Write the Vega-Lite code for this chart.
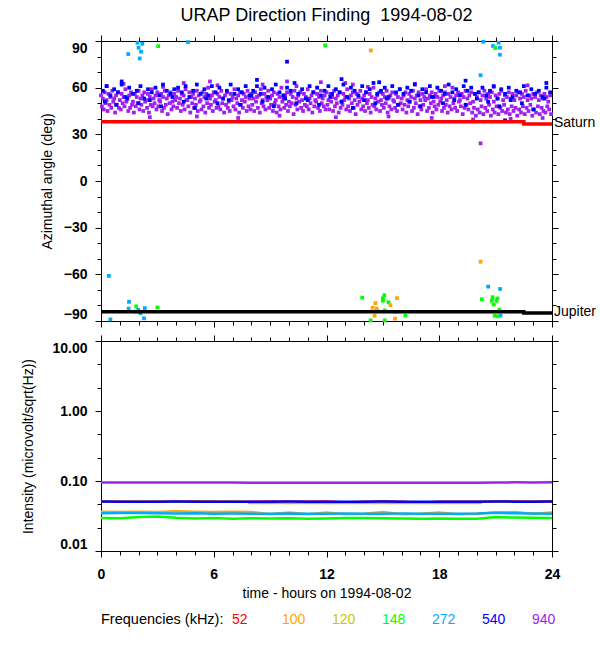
{
  "$schema": "https://vega.github.io/schema/vega-lite/v6.json",
  "description": "URAP direction finding for 1994-08-02: azimuthal angle and intensity by frequency.",
  "padding": {"left": 21, "top": 6, "right": 4, "bottom": 4},
  "background": "white",
  "config": {
    "view": {"stroke": "black", "strokeWidth": 1},
    "font": "Liberation Sans",
    "axis": {
      "domain": false,
      "grid": false,
      "tickColor": "black",
      "tickWidth": 1,
      "labelColor": "black",
      "labelFont": "Liberation Sans",
      "labelFontSize": 14,
      "labelFontWeight": "bold",
      "titleFont": "Liberation Sans",
      "titleFontSize": 14,
      "titleFontWeight": "normal",
      "titleColor": "black"
    },
    "legend": {
      "orient": "bottom",
      "direction": "horizontal",
      "titleOrient": "left",
      "titleFont": "Liberation Sans",
      "titleFontSize": 14.5,
      "titleFontWeight": "normal",
      "titleColor": "black",
      "titlePadding": 0,
      "labelFont": "Liberation Sans",
      "labelFontSize": 14,
      "symbolSize": 0,
      "symbolOpacity": 0,
      "symbolStrokeWidth": 0,
      "labelOffset": -6,
      "columnPadding": 18,
      "gridAlign": "all",
      "offset": 12
    },
    "title": {
      "font": "Liberation Sans",
      "fontSize": 18,
      "fontWeight": "normal",
      "color": "black",
      "anchor": "middle",
      "frame": "group",
      "offset": 10
    }
  },
  "datasets": {
    "bodies": [
      {"t": 0, "a": 38.1, "body": "Saturn"},
      {"t": 22.5, "a": 36.7, "body": "Saturn"},
      {"t": 24, "a": 36.7, "body": "Saturn"},
      {"t": 0, "a": -84, "body": "Jupiter"},
      {"t": 22.5, "a": -84.8, "body": "Jupiter"},
      {"t": 24, "a": -84.8, "body": "Jupiter"}
    ],
    "ints": [
      {"t":0,"v":0.0505,"f":52},{"t":1,"v":0.051,"f":52},{"t":2,"v":0.0505,"f":52},{"t":3,"v":0.051,"f":52},{"t":4,"v":0.0505,"f":52},{"t":5,"v":0.0515,"f":52},{"t":6,"v":0.051,"f":52},{"t":7,"v":0.0505,"f":52},{"t":8,"v":0.0505,"f":52},{"t":9,"v":0.051,"f":52},{"t":10,"v":0.0505,"f":52},{"t":11,"v":0.0505,"f":52},{"t":12,"v":0.051,"f":52},{"t":13,"v":0.0495,"f":52},{"t":14,"v":0.0505,"f":52},{"t":15,"v":0.051,"f":52},{"t":16,"v":0.0505,"f":52},{"t":17,"v":0.049,"f":52},{"t":18,"v":0.0505,"f":52},{"t":19,"v":0.0505,"f":52},{"t":20,"v":0.0505,"f":52},{"t":21,"v":0.051,"f":52},{"t":22,"v":0.0515,"f":52},{"t":23,"v":0.051,"f":52},{"t":24,"v":0.0515,"f":52},
      {"t":0,"v":0.0365,"f":100},{"t":1,"v":0.036,"f":100},{"t":2,"v":0.0365,"f":100},{"t":3,"v":0.036,"f":100},{"t":4,"v":0.037,"f":100},{"t":5,"v":0.0365,"f":100},{"t":6,"v":0.036,"f":100},{"t":7,"v":0.0365,"f":100},{"t":8,"v":0.036,"f":100},{"t":9,"v":0.0335,"f":100},{"t":10,"v":0.0355,"f":100},{"t":11,"v":0.0335,"f":100},{"t":12,"v":0.0355,"f":100},{"t":13,"v":0.0335,"f":100},{"t":14,"v":0.034,"f":100},{"t":15,"v":0.036,"f":100},{"t":16,"v":0.0335,"f":100},{"t":17,"v":0.034,"f":100},{"t":18,"v":0.0355,"f":100},{"t":19,"v":0.0335,"f":100},{"t":20,"v":0.034,"f":100},{"t":21,"v":0.0355,"f":100},{"t":22,"v":0.036,"f":100},{"t":23,"v":0.034,"f":100},{"t":24,"v":0.0355,"f":100},
      {"t":0,"v":0.0505,"f":120},{"t":7.8,"v":0.0505,"f":120},{"t":7.9,"v":0.0485,"f":120},{"t":20.2,"v":0.0485,"f":120},{"t":20.3,"v":0.0505,"f":120},{"t":24,"v":0.0505,"f":120},
      {"t":0,"v":0.0295,"f":148},{"t":1,"v":0.0293,"f":148},{"t":2,"v":0.0305,"f":148},{"t":3,"v":0.031,"f":148},{"t":4,"v":0.0298,"f":148},{"t":5,"v":0.0292,"f":148},{"t":6,"v":0.0295,"f":148},{"t":7,"v":0.029,"f":148},{"t":8,"v":0.0293,"f":148},{"t":9,"v":0.0291,"f":148},{"t":10,"v":0.0294,"f":148},{"t":11,"v":0.0289,"f":148},{"t":12,"v":0.0292,"f":148},{"t":13,"v":0.0295,"f":148},{"t":14,"v":0.0297,"f":148},{"t":15,"v":0.0293,"f":148},{"t":16,"v":0.0291,"f":148},{"t":17,"v":0.029,"f":148},{"t":18,"v":0.0292,"f":148},{"t":19,"v":0.0288,"f":148},{"t":20,"v":0.0289,"f":148},{"t":21,"v":0.0305,"f":148},{"t":22,"v":0.03,"f":148},{"t":23,"v":0.0298,"f":148},{"t":24,"v":0.0297,"f":148},
      {"t":0,"v":0.0345,"f":272},{"t":1,"v":0.035,"f":272},{"t":2,"v":0.0348,"f":272},{"t":3,"v":0.0345,"f":272},{"t":4,"v":0.0342,"f":272},{"t":5,"v":0.0345,"f":272},{"t":6,"v":0.034,"f":272},{"t":7,"v":0.0342,"f":272},{"t":8,"v":0.034,"f":272},{"t":9,"v":0.0341,"f":272},{"t":10,"v":0.0343,"f":272},{"t":11,"v":0.034,"f":272},{"t":12,"v":0.0341,"f":272},{"t":13,"v":0.0342,"f":272},{"t":14,"v":0.034,"f":272},{"t":15,"v":0.0341,"f":272},{"t":16,"v":0.0342,"f":272},{"t":17,"v":0.034,"f":272},{"t":18,"v":0.0341,"f":272},{"t":19,"v":0.034,"f":272},{"t":20,"v":0.0342,"f":272},{"t":21,"v":0.0352,"f":272},{"t":22,"v":0.0345,"f":272},{"t":23,"v":0.0342,"f":272},{"t":24,"v":0.034,"f":272},
      {"t":0,"v":0.0508,"f":540},{"t":1,"v":0.0506,"f":540},{"t":2,"v":0.0507,"f":540},{"t":3,"v":0.0506,"f":540},{"t":4,"v":0.0508,"f":540},{"t":5,"v":0.0506,"f":540},{"t":6,"v":0.0507,"f":540},{"t":7,"v":0.0506,"f":540},{"t":8,"v":0.0505,"f":540},{"t":9,"v":0.0506,"f":540},{"t":10,"v":0.0508,"f":540},{"t":11,"v":0.0506,"f":540},{"t":12,"v":0.0505,"f":540},{"t":13,"v":0.0506,"f":540},{"t":14,"v":0.0507,"f":540},{"t":15,"v":0.0508,"f":540},{"t":16,"v":0.0506,"f":540},{"t":17,"v":0.0505,"f":540},{"t":18,"v":0.0506,"f":540},{"t":19,"v":0.0505,"f":540},{"t":20,"v":0.0506,"f":540},{"t":21,"v":0.051,"f":540},{"t":22,"v":0.0507,"f":540},{"t":23,"v":0.0506,"f":540},{"t":24,"v":0.0508,"f":540},
      {"t":0,"v":0.0955,"f":940},{"t":1,"v":0.095,"f":940},{"t":2,"v":0.0955,"f":940},{"t":3,"v":0.095,"f":940},{"t":4,"v":0.0955,"f":940},{"t":5,"v":0.0952,"f":940},{"t":6,"v":0.095,"f":940},{"t":7,"v":0.0948,"f":940},{"t":8,"v":0.0946,"f":940},{"t":9,"v":0.0946,"f":940},{"t":10,"v":0.0945,"f":940},{"t":11,"v":0.0946,"f":940},{"t":12,"v":0.0946,"f":940},{"t":13,"v":0.0945,"f":940},{"t":14,"v":0.0946,"f":940},{"t":15,"v":0.0946,"f":940},{"t":16,"v":0.0945,"f":940},{"t":17,"v":0.0946,"f":940},{"t":18,"v":0.0946,"f":940},{"t":19,"v":0.0945,"f":940},{"t":20,"v":0.0946,"f":940},{"t":21,"v":0.0955,"f":940},{"t":22,"v":0.0956,"f":940},{"t":23,"v":0.0955,"f":940},{"t":24,"v":0.0956,"f":940}
    ],
    "pts": [
      {"t":0.0,"a":55,"f":940},{"t":0.05,"a":48,"f":940},{"t":0.1,"a":53,"f":940},{"t":0.15,"a":46,"f":940},{"t":0.2,"a":57,"f":940},{"t":0.25,"a":50,"f":940},{"t":0.3,"a":52,"f":940},{"t":0.35,"a":45,"f":940},{"t":0.4,"a":56,"f":940},{"t":0.45,"a":49,"f":940},
      {"t":0.5,"a":54,"f":940},{"t":0.55,"a":47,"f":940},{"t":0.6,"a":58,"f":940},{"t":0.65,"a":51,"f":940},{"t":0.7,"a":53,"f":940},{"t":0.75,"a":44,"f":940},{"t":0.8,"a":55,"f":940},{"t":0.85,"a":49,"f":940},{"t":0.9,"a":57,"f":940},{"t":0.95,"a":47,"f":940},
      {"t":1.0,"a":52,"f":940},{"t":1.05,"a":46,"f":940},{"t":1.1,"a":56,"f":940},{"t":1.15,"a":50,"f":940},{"t":1.2,"a":54,"f":940},{"t":1.25,"a":48,"f":940},{"t":1.3,"a":59,"f":940},{"t":1.35,"a":51,"f":940},{"t":1.4,"a":53,"f":940},{"t":1.45,"a":45,"f":940},
      {"t":1.5,"a":55,"f":940},{"t":1.55,"a":47,"f":940},{"t":1.6,"a":57,"f":940},{"t":1.65,"a":49,"f":940},{"t":1.7,"a":51,"f":940},{"t":1.75,"a":44,"f":940},{"t":1.8,"a":56,"f":940},{"t":1.85,"a":48,"f":940},{"t":1.9,"a":54,"f":940},{"t":1.95,"a":50,"f":940},
      {"t":2.0,"a":58,"f":940},{"t":2.05,"a":46,"f":940},{"t":2.1,"a":53,"f":940},{"t":2.15,"a":49,"f":940},{"t":2.2,"a":55,"f":940},{"t":2.25,"a":45,"f":940},{"t":2.3,"a":57,"f":940},{"t":2.35,"a":51,"f":940},{"t":2.4,"a":52,"f":940},{"t":2.45,"a":47,"f":940},
      {"t":2.5,"a":56,"f":940},{"t":2.55,"a":44,"f":940},{"t":2.6,"a":54,"f":940},{"t":2.65,"a":49,"f":940},{"t":2.7,"a":59,"f":940},{"t":2.75,"a":48,"f":940},{"t":2.8,"a":53,"f":940},{"t":2.85,"a":50,"f":940},{"t":2.9,"a":55,"f":940},{"t":2.95,"a":46,"f":940},
      {"t":3.0,"a":57,"f":940},{"t":3.05,"a":48,"f":940},{"t":3.1,"a":52,"f":940},{"t":3.15,"a":51,"f":940},{"t":3.2,"a":56,"f":940},{"t":3.25,"a":45,"f":940},{"t":3.3,"a":54,"f":940},{"t":3.35,"a":47,"f":940},{"t":3.4,"a":58,"f":940},{"t":3.45,"a":49,"f":940},
      {"t":3.5,"a":53,"f":940},{"t":3.55,"a":43,"f":940},{"t":3.6,"a":55,"f":940},{"t":3.65,"a":50,"f":940},{"t":3.7,"a":57,"f":940},{"t":3.75,"a":46,"f":940},{"t":3.8,"a":51,"f":940},{"t":3.85,"a":48,"f":940},{"t":3.9,"a":56,"f":940},{"t":3.95,"a":52,"f":940},
      {"t":4.0,"a":54,"f":940},{"t":4.05,"a":47,"f":940},{"t":4.1,"a":58,"f":940},{"t":4.15,"a":50,"f":940},{"t":4.2,"a":53,"f":940},{"t":4.25,"a":45,"f":940},{"t":4.3,"a":56,"f":940},{"t":4.35,"a":49,"f":940},{"t":4.4,"a":55,"f":940},{"t":4.45,"a":46,"f":940},
      {"t":4.5,"a":59,"f":940},{"t":4.55,"a":52,"f":940},{"t":4.6,"a":52,"f":940},{"t":4.65,"a":48,"f":940},{"t":4.7,"a":57,"f":940},{"t":4.75,"a":44,"f":940},{"t":4.8,"a":54,"f":940},{"t":4.85,"a":50,"f":940},{"t":4.9,"a":56,"f":940},{"t":4.95,"a":47,"f":940},
      {"t":5.0,"a":53,"f":940},{"t":5.05,"a":49,"f":940},{"t":5.1,"a":58,"f":940},{"t":5.15,"a":45,"f":940},{"t":5.2,"a":55,"f":940},{"t":5.25,"a":51,"f":940},{"t":5.3,"a":52,"f":940},{"t":5.35,"a":46,"f":940},{"t":5.4,"a":57,"f":940},{"t":5.45,"a":48,"f":940},
      {"t":5.5,"a":54,"f":940},{"t":5.55,"a":44,"f":940},{"t":5.6,"a":56,"f":940},{"t":5.65,"a":50,"f":940},{"t":5.7,"a":60,"f":940},{"t":5.75,"a":47,"f":940},{"t":5.8,"a":53,"f":940},{"t":5.85,"a":49,"f":940},{"t":5.9,"a":55,"f":940},{"t":5.95,"a":45,"f":940},
      {"t":6.0,"a":57,"f":940},{"t":6.05,"a":51,"f":940},{"t":6.1,"a":52,"f":940},{"t":6.15,"a":47,"f":940},{"t":6.2,"a":56,"f":940},{"t":6.25,"a":48,"f":940},{"t":6.3,"a":54,"f":940},{"t":6.35,"a":46,"f":940},{"t":6.4,"a":58,"f":940},{"t":6.45,"a":50,"f":940},
      {"t":6.5,"a":53,"f":940},{"t":6.55,"a":44,"f":940},{"t":6.6,"a":55,"f":940},{"t":6.65,"a":49,"f":940},{"t":6.7,"a":57,"f":940},{"t":6.75,"a":47,"f":940},{"t":6.8,"a":51,"f":940},{"t":6.85,"a":45,"f":940},{"t":6.9,"a":56,"f":940},{"t":6.95,"a":52,"f":940},
      {"t":7.0,"a":54,"f":940},{"t":7.05,"a":48,"f":940},{"t":7.1,"a":59,"f":940},{"t":7.15,"a":46,"f":940},{"t":7.2,"a":53,"f":940},{"t":7.25,"a":50,"f":940},{"t":7.3,"a":55,"f":940},{"t":7.35,"a":44,"f":940},{"t":7.4,"a":57,"f":940},{"t":7.45,"a":49,"f":940},
      {"t":7.5,"a":52,"f":940},{"t":7.55,"a":47,"f":940},{"t":7.6,"a":56,"f":940},{"t":7.65,"a":51,"f":940},{"t":7.7,"a":54,"f":940},{"t":7.75,"a":45,"f":940},{"t":7.8,"a":58,"f":940},{"t":7.85,"a":48,"f":940},{"t":7.9,"a":53,"f":940},{"t":7.95,"a":46,"f":940},
      {"t":8.0,"a":56,"f":940},{"t":8.05,"a":49,"f":940},{"t":8.1,"a":53,"f":940},{"t":8.15,"a":45,"f":940},{"t":8.2,"a":57,"f":940},{"t":8.25,"a":51,"f":940},{"t":8.3,"a":54,"f":940},{"t":8.35,"a":47,"f":940},{"t":8.4,"a":55,"f":940},{"t":8.45,"a":44,"f":940},
      {"t":8.5,"a":59,"f":940},{"t":8.55,"a":50,"f":940},{"t":8.6,"a":52,"f":940},{"t":8.65,"a":48,"f":940},{"t":8.7,"a":56,"f":940},{"t":8.75,"a":46,"f":940},{"t":8.8,"a":54,"f":940},{"t":8.85,"a":52,"f":940},{"t":8.9,"a":58,"f":940},{"t":8.95,"a":47,"f":940},
      {"t":9.0,"a":53,"f":940},{"t":9.05,"a":49,"f":940},{"t":9.1,"a":55,"f":940},{"t":9.15,"a":45,"f":940},{"t":9.2,"a":57,"f":940},{"t":9.25,"a":50,"f":940},{"t":9.3,"a":52,"f":940},{"t":9.35,"a":44,"f":940},{"t":9.4,"a":56,"f":940},{"t":9.45,"a":48,"f":940},
      {"t":9.5,"a":54,"f":940},{"t":9.55,"a":46,"f":940},{"t":9.6,"a":60,"f":940},{"t":9.65,"a":51,"f":940},{"t":9.7,"a":53,"f":940},{"t":9.75,"a":47,"f":940},{"t":9.8,"a":55,"f":940},{"t":9.85,"a":49,"f":940},{"t":9.9,"a":57,"f":940},{"t":9.95,"a":45,"f":940},
      {"t":10.0,"a":51,"f":940},{"t":10.05,"a":48,"f":940},{"t":10.1,"a":56,"f":940},{"t":10.15,"a":50,"f":940},{"t":10.2,"a":54,"f":940},{"t":10.25,"a":43,"f":940},{"t":10.3,"a":58,"f":940},{"t":10.35,"a":49,"f":940},{"t":10.4,"a":53,"f":940},{"t":10.45,"a":46,"f":940},
      {"t":10.5,"a":55,"f":940},{"t":10.55,"a":51,"f":940},{"t":10.6,"a":57,"f":940},{"t":10.65,"a":47,"f":940},{"t":10.7,"a":52,"f":940},{"t":10.75,"a":45,"f":940},{"t":10.8,"a":56,"f":940},{"t":10.85,"a":49,"f":940},{"t":10.9,"a":54,"f":940},{"t":10.95,"a":48,"f":940},
      {"t":11.0,"a":59,"f":940},{"t":11.05,"a":46,"f":940},{"t":11.1,"a":53,"f":940},{"t":11.15,"a":50,"f":940},{"t":11.2,"a":55,"f":940},{"t":11.25,"a":44,"f":940},{"t":11.3,"a":57,"f":940},{"t":11.35,"a":48,"f":940},{"t":11.4,"a":52,"f":940},{"t":11.45,"a":51,"f":940},
      {"t":11.5,"a":56,"f":940},{"t":11.55,"a":47,"f":940},{"t":11.6,"a":54,"f":940},{"t":11.65,"a":45,"f":940},{"t":11.7,"a":58,"f":940},{"t":11.75,"a":50,"f":940},{"t":11.8,"a":53,"f":940},{"t":11.85,"a":48,"f":940},{"t":11.9,"a":55,"f":940},{"t":11.95,"a":46,"f":940},
      {"t":12.0,"a":57,"f":940},{"t":12.05,"a":49,"f":940},{"t":12.1,"a":52,"f":940},{"t":12.15,"a":46,"f":940},{"t":12.2,"a":56,"f":940},{"t":12.25,"a":51,"f":940},{"t":12.3,"a":54,"f":940},{"t":12.35,"a":45,"f":940},{"t":12.4,"a":58,"f":940},{"t":12.45,"a":48,"f":940},
      {"t":12.5,"a":53,"f":940},{"t":12.55,"a":50,"f":940},{"t":12.6,"a":55,"f":940},{"t":12.65,"a":44,"f":940},{"t":12.7,"a":57,"f":940},{"t":12.75,"a":47,"f":940},{"t":12.8,"a":51,"f":940},{"t":12.85,"a":49,"f":940},{"t":12.9,"a":56,"f":940},{"t":12.95,"a":52,"f":940},
      {"t":13.0,"a":54,"f":940},{"t":13.05,"a":46,"f":940},{"t":13.1,"a":59,"f":940},{"t":13.15,"a":48,"f":940},{"t":13.2,"a":53,"f":940},{"t":13.25,"a":45,"f":940},{"t":13.3,"a":55,"f":940},{"t":13.35,"a":50,"f":940},{"t":13.4,"a":57,"f":940},{"t":13.45,"a":47,"f":940},
      {"t":13.5,"a":52,"f":940},{"t":13.55,"a":43,"f":940},{"t":13.6,"a":56,"f":940},{"t":13.65,"a":49,"f":940},{"t":13.7,"a":54,"f":940},{"t":13.75,"a":51,"f":940},{"t":13.8,"a":58,"f":940},{"t":13.85,"a":46,"f":940},{"t":13.9,"a":53,"f":940},{"t":13.95,"a":48,"f":940},
      {"t":14.0,"a":55,"f":940},{"t":14.05,"a":45,"f":940},{"t":14.1,"a":57,"f":940},{"t":14.15,"a":50,"f":940},{"t":14.2,"a":52,"f":940},{"t":14.25,"a":47,"f":940},{"t":14.3,"a":56,"f":940},{"t":14.35,"a":44,"f":940},{"t":14.4,"a":54,"f":940},{"t":14.45,"a":49,"f":940},
      {"t":14.5,"a":60,"f":940},{"t":14.55,"a":48,"f":940},{"t":14.6,"a":53,"f":940},{"t":14.65,"a":46,"f":940},{"t":14.7,"a":55,"f":940},{"t":14.75,"a":51,"f":940},{"t":14.8,"a":57,"f":940},{"t":14.85,"a":45,"f":940},{"t":14.9,"a":52,"f":940},{"t":14.95,"a":49,"f":940},
      {"t":15.0,"a":56,"f":940},{"t":15.05,"a":47,"f":940},{"t":15.1,"a":54,"f":940},{"t":15.15,"a":50,"f":940},{"t":15.2,"a":58,"f":940},{"t":15.25,"a":44,"f":940},{"t":15.3,"a":53,"f":940},{"t":15.35,"a":48,"f":940},{"t":15.4,"a":55,"f":940},{"t":15.45,"a":46,"f":940},
      {"t":15.5,"a":57,"f":940},{"t":15.55,"a":52,"f":940},{"t":15.6,"a":51,"f":940},{"t":15.65,"a":47,"f":940},{"t":15.7,"a":56,"f":940},{"t":15.75,"a":45,"f":940},{"t":15.8,"a":54,"f":940},{"t":15.85,"a":49,"f":940},{"t":15.9,"a":59,"f":940},{"t":15.95,"a":50,"f":940},
      {"t":16.0,"a":53,"f":940},{"t":16.05,"a":46,"f":940},{"t":16.1,"a":55,"f":940},{"t":16.15,"a":49,"f":940},{"t":16.2,"a":57,"f":940},{"t":16.25,"a":44,"f":940},{"t":16.3,"a":52,"f":940},{"t":16.35,"a":48,"f":940},{"t":16.4,"a":56,"f":940},{"t":16.45,"a":51,"f":940},
      {"t":16.5,"a":54,"f":940},{"t":16.55,"a":45,"f":940},{"t":16.6,"a":58,"f":940},{"t":16.65,"a":47,"f":940},{"t":16.7,"a":53,"f":940},{"t":16.75,"a":50,"f":940},{"t":16.8,"a":55,"f":940},{"t":16.85,"a":43,"f":940},{"t":16.9,"a":57,"f":940},{"t":16.95,"a":48,"f":940},
      {"t":17.0,"a":52,"f":940},{"t":17.05,"a":46,"f":940},{"t":17.1,"a":56,"f":940},{"t":17.15,"a":49,"f":940},{"t":17.2,"a":54,"f":940},{"t":17.25,"a":52,"f":940},{"t":17.3,"a":59,"f":940},{"t":17.35,"a":45,"f":940},{"t":17.4,"a":53,"f":940},{"t":17.45,"a":47,"f":940},
      {"t":17.5,"a":55,"f":940},{"t":17.55,"a":50,"f":940},{"t":17.6,"a":57,"f":940},{"t":17.65,"a":44,"f":940},{"t":17.7,"a":51,"f":940},{"t":17.75,"a":48,"f":940},{"t":17.8,"a":56,"f":940},{"t":17.85,"a":46,"f":940},{"t":17.9,"a":54,"f":940},{"t":17.95,"a":49,"f":940},
      {"t":18.0,"a":58,"f":940},{"t":18.05,"a":51,"f":940},{"t":18.1,"a":53,"f":940},{"t":18.15,"a":45,"f":940},{"t":18.2,"a":55,"f":940},{"t":18.25,"a":47,"f":940},{"t":18.3,"a":57,"f":940},{"t":18.35,"a":49,"f":940},{"t":18.4,"a":52,"f":940},{"t":18.45,"a":44,"f":940},
      {"t":18.5,"a":56,"f":940},{"t":18.55,"a":48,"f":940},{"t":18.6,"a":54,"f":940},{"t":18.65,"a":46,"f":940},{"t":18.7,"a":60,"f":940},{"t":18.75,"a":50,"f":940},{"t":18.8,"a":53,"f":940},{"t":18.85,"a":47,"f":940},{"t":18.9,"a":55,"f":940},{"t":18.95,"a":45,"f":940},
      {"t":19.0,"a":57,"f":940},{"t":19.05,"a":51,"f":940},{"t":19.1,"a":52,"f":940},{"t":19.15,"a":48,"f":940},{"t":19.2,"a":56,"f":940},{"t":19.25,"a":43,"f":940},{"t":19.3,"a":54,"f":940},{"t":19.35,"a":47,"f":940},{"t":19.4,"a":58,"f":940},{"t":19.45,"a":49,"f":940},
      {"t":19.5,"a":53,"f":940},{"t":19.55,"a":46,"f":940},{"t":19.6,"a":55,"f":940},{"t":19.65,"a":50,"f":940},{"t":19.7,"a":57,"f":940},{"t":19.75,"a":44,"f":940},{"t":19.8,"a":51,"f":940},{"t":19.85,"a":47,"f":940},{"t":19.9,"a":56,"f":940},{"t":19.95,"a":42,"f":940},
      {"t":20.0,"a":54,"f":940},{"t":20.05,"a":46,"f":940},{"t":20.1,"a":57,"f":940},{"t":20.15,"a":44,"f":940},{"t":20.2,"a":52,"f":940},{"t":20.25,"a":48,"f":940},{"t":20.3,"a":55,"f":940},{"t":20.35,"a":43,"f":940},{"t":20.4,"a":58,"f":940},{"t":20.45,"a":47,"f":940},
      {"t":20.5,"a":53,"f":940},{"t":20.55,"a":45,"f":940},{"t":20.6,"a":56,"f":940},{"t":20.65,"a":49,"f":940},{"t":20.7,"a":54,"f":940},{"t":20.75,"a":42,"f":940},{"t":20.8,"a":57,"f":940},{"t":20.85,"a":46,"f":940},{"t":20.9,"a":51,"f":940},{"t":20.95,"a":44,"f":940},
      {"t":21.0,"a":55,"f":940},{"t":21.05,"a":48,"f":940},{"t":21.1,"a":53,"f":940},{"t":21.15,"a":43,"f":940},{"t":21.2,"a":56,"f":940},{"t":21.25,"a":47,"f":940},{"t":21.3,"a":58,"f":940},{"t":21.35,"a":45,"f":940},{"t":21.4,"a":52,"f":940},{"t":21.45,"a":49,"f":940},
      {"t":21.5,"a":55,"f":940},{"t":21.55,"a":44,"f":940},{"t":21.6,"a":54,"f":940},{"t":21.65,"a":46,"f":940},{"t":21.7,"a":57,"f":940},{"t":21.75,"a":43,"f":940},{"t":21.8,"a":53,"f":940},{"t":21.85,"a":48,"f":940},{"t":21.9,"a":56,"f":940},{"t":21.95,"a":45,"f":940},
      {"t":22.0,"a":52,"f":940},{"t":22.05,"a":47,"f":940},{"t":22.1,"a":55,"f":940},{"t":22.15,"a":42,"f":940},{"t":22.2,"a":57,"f":940},{"t":22.25,"a":46,"f":940},{"t":22.3,"a":53,"f":940},{"t":22.35,"a":44,"f":940},{"t":22.4,"a":56,"f":940},{"t":22.45,"a":48,"f":940},
      {"t":22.5,"a":54,"f":940},{"t":22.55,"a":43,"f":940},{"t":22.6,"a":58,"f":940},{"t":22.65,"a":47,"f":940},{"t":22.7,"a":52,"f":940},{"t":22.75,"a":45,"f":940},{"t":22.8,"a":55,"f":940},{"t":22.85,"a":49,"f":940},{"t":22.9,"a":53,"f":940},{"t":22.95,"a":42,"f":940},
      {"t":23.0,"a":56,"f":940},{"t":23.05,"a":46,"f":940},{"t":23.1,"a":54,"f":940},{"t":23.15,"a":44,"f":940},{"t":23.2,"a":57,"f":940},{"t":23.25,"a":48,"f":940},{"t":23.3,"a":52,"f":940},{"t":23.35,"a":43,"f":940},{"t":23.4,"a":55,"f":940},{"t":23.45,"a":47,"f":940},
      {"t":23.5,"a":53,"f":940},{"t":23.55,"a":45,"f":940},{"t":23.6,"a":56,"f":940},{"t":23.65,"a":44,"f":940},{"t":23.7,"a":54,"f":940},{"t":23.75,"a":48,"f":940},{"t":23.8,"a":51,"f":940},{"t":23.85,"a":46,"f":940},{"t":23.9,"a":55,"f":940},{"t":23.95,"a":43,"f":940},
      {"t":0.3,"a":61,"f":940},{"t":1.2,"a":62.5,"f":940},{"t":2.6,"a":41,"f":940},{"t":3.3,"a":60.5,"f":940},{"t":4.4,"a":63,"f":940},{"t":5.1,"a":41.5,"f":940},{"t":5.8,"a":64,"f":940},{"t":6.2,"a":61.5,"f":940},{"t":7.3,"a":40.5,"f":940},{"t":8.6,"a":62,"f":940},
      {"t":9.5,"a":42,"f":940},{"t":9.9,"a":64,"f":940},{"t":10.4,"a":61,"f":940},{"t":11.7,"a":63.5,"f":940},{"t":12.5,"a":41,"f":940},{"t":13.0,"a":63,"f":940},{"t":13.4,"a":62,"f":940},{"t":14.2,"a":60.5,"f":940},{"t":15.3,"a":41.5,"f":940},{"t":16.7,"a":62.5,"f":940},
      {"t":17.6,"a":40.5,"f":940},{"t":18.3,"a":61,"f":940},{"t":19.8,"a":39.6,"f":940},{"t":20.2,"a":24.2,"f":940},{"t":20.9,"a":60.5,"f":940},{"t":21.8,"a":40,"f":940},{"t":22.7,"a":61.5,"f":940},{"t":23.5,"a":40.5,"f":940},
      {"t":0.1,"a":58,"f":540},{"t":0.3,"a":61,"f":540},{"t":0.5,"a":55,"f":540},{"t":0.7,"a":59,"f":540},{"t":0.9,"a":57,"f":540},{"t":1.1,"a":62,"f":540},{"t":1.3,"a":54,"f":540},{"t":1.5,"a":60,"f":540},{"t":1.7,"a":56,"f":540},{"t":1.9,"a":58,"f":540},
      {"t":2.1,"a":61,"f":540},{"t":2.3,"a":53,"f":540},{"t":2.5,"a":59,"f":540},{"t":2.7,"a":57,"f":540},{"t":2.9,"a":60,"f":540},{"t":3.1,"a":55,"f":540},{"t":3.3,"a":62,"f":540},{"t":3.5,"a":58,"f":540},{"t":3.7,"a":56,"f":540},{"t":3.9,"a":59,"f":540},
      {"t":4.1,"a":60,"f":540},{"t":4.3,"a":57,"f":540},{"t":4.5,"a":61,"f":540},{"t":4.7,"a":54,"f":540},{"t":4.9,"a":58,"f":540},{"t":5.1,"a":62,"f":540},{"t":5.3,"a":56,"f":540},{"t":5.5,"a":59,"f":540},{"t":5.7,"a":55,"f":540},{"t":5.9,"a":61,"f":540},
      {"t":6.1,"a":57,"f":540},{"t":6.3,"a":60,"f":540},{"t":6.5,"a":53,"f":540},{"t":6.7,"a":58,"f":540},{"t":6.9,"a":62,"f":540},{"t":7.1,"a":56,"f":540},{"t":7.3,"a":59,"f":540},{"t":7.5,"a":57,"f":540},{"t":7.7,"a":61,"f":540},{"t":7.9,"a":55,"f":540},
      {"t":8.1,"a":58,"f":540},{"t":8.3,"a":61,"f":540},{"t":8.5,"a":56,"f":540},{"t":8.7,"a":60,"f":540},{"t":8.9,"a":54,"f":540},{"t":9.1,"a":59,"f":540},{"t":9.3,"a":62,"f":540},{"t":9.5,"a":57,"f":540},{"t":9.7,"a":55,"f":540},{"t":9.9,"a":60,"f":540},
      {"t":10.1,"a":58,"f":540},{"t":10.3,"a":63,"f":540},{"t":10.5,"a":56,"f":540},{"t":10.7,"a":59,"f":540},{"t":10.9,"a":53,"f":540},{"t":11.1,"a":61,"f":540},{"t":11.3,"a":57,"f":540},{"t":11.5,"a":60,"f":540},{"t":11.7,"a":55,"f":540},{"t":11.9,"a":58,"f":540},
      {"t":12.1,"a":61,"f":540},{"t":12.3,"a":56,"f":540},{"t":12.5,"a":59,"f":540},{"t":12.7,"a":57,"f":540},{"t":12.9,"a":62,"f":540},{"t":13.1,"a":54,"f":540},{"t":13.3,"a":60,"f":540},{"t":13.5,"a":58,"f":540},{"t":13.7,"a":55,"f":540},{"t":13.9,"a":61,"f":540},
      {"t":14.1,"a":57,"f":540},{"t":14.3,"a":59,"f":540},{"t":14.5,"a":63,"f":540},{"t":14.7,"a":56,"f":540},{"t":14.9,"a":58,"f":540},{"t":15.1,"a":60,"f":540},{"t":15.3,"a":54,"f":540},{"t":15.5,"a":61,"f":540},{"t":15.7,"a":57,"f":540},{"t":15.9,"a":59,"f":540},
      {"t":16.1,"a":56,"f":540},{"t":16.3,"a":60,"f":540},{"t":16.5,"a":58,"f":540},{"t":16.7,"a":62,"f":540},{"t":16.9,"a":55,"f":540},{"t":17.1,"a":59,"f":540},{"t":17.3,"a":57,"f":540},{"t":17.5,"a":61,"f":540},{"t":17.7,"a":54,"f":540},{"t":17.9,"a":60,"f":540},
      {"t":18.1,"a":58,"f":540},{"t":18.3,"a":56,"f":540},{"t":18.5,"a":62,"f":540},{"t":18.7,"a":57,"f":540},{"t":18.9,"a":59,"f":540},{"t":19.1,"a":55,"f":540},{"t":19.3,"a":61,"f":540},{"t":19.5,"a":58,"f":540},{"t":19.7,"a":60,"f":540},{"t":19.9,"a":56,"f":540},
      {"t":20.1,"a":57,"f":540},{"t":20.3,"a":60,"f":540},{"t":20.5,"a":55,"f":540},{"t":20.7,"a":58,"f":540},{"t":20.9,"a":61,"f":540},{"t":21.1,"a":53,"f":540},{"t":21.3,"a":59,"f":540},{"t":21.5,"a":56,"f":540},{"t":21.7,"a":60,"f":540},{"t":21.9,"a":54,"f":540},
      {"t":22.1,"a":58,"f":540},{"t":22.3,"a":57,"f":540},{"t":22.5,"a":61,"f":540},{"t":22.7,"a":55,"f":540},{"t":22.9,"a":59,"f":540},{"t":23.1,"a":56,"f":540},{"t":23.3,"a":58,"f":540},{"t":23.5,"a":54,"f":540},{"t":23.7,"a":60,"f":540},{"t":23.9,"a":57,"f":540},
      {"t":0.2,"a":51,"f":540},{"t":0.8,"a":49,"f":540},{"t":1.4,"a":53,"f":540},{"t":2.0,"a":50,"f":540},{"t":2.6,"a":52,"f":540},{"t":3.2,"a":48,"f":540},{"t":3.8,"a":54,"f":540},{"t":4.4,"a":51,"f":540},{"t":5.0,"a":47,"f":540},{"t":5.6,"a":53,"f":540},
      {"t":6.2,"a":50,"f":540},{"t":6.8,"a":52,"f":540},{"t":7.4,"a":49,"f":540},{"t":8.0,"a":55,"f":540},{"t":8.6,"a":51,"f":540},{"t":9.2,"a":48,"f":540},{"t":9.8,"a":53,"f":540},{"t":10.4,"a":50,"f":540},{"t":11.0,"a":52,"f":540},{"t":11.6,"a":49,"f":540},
      {"t":12.2,"a":54,"f":540},{"t":12.8,"a":51,"f":540},{"t":13.4,"a":47,"f":540},{"t":14.0,"a":52,"f":540},{"t":14.6,"a":50,"f":540},{"t":15.2,"a":53,"f":540},{"t":15.8,"a":49,"f":540},{"t":16.4,"a":51,"f":540},{"t":17.0,"a":48,"f":540},{"t":17.6,"a":54,"f":540},
      {"t":18.2,"a":50,"f":540},{"t":18.8,"a":52,"f":540},{"t":19.4,"a":49,"f":540},{"t":20.0,"a":53,"f":540},{"t":20.6,"a":51,"f":540},{"t":21.2,"a":48,"f":540},{"t":21.8,"a":52,"f":540},{"t":22.4,"a":50,"f":540},{"t":23.0,"a":46,"f":540},{"t":23.6,"a":53,"f":540},
      {"t":9.9,"a":76.7,"f":540},{"t":8.3,"a":65,"f":540},{"t":21.5,"a":39,"f":540},{"t":1.1,"a":64,"f":540},{"t":12.8,"a":65.5,"f":540},{"t":14.8,"a":63.5,"f":540},{"t":19.4,"a":64.5,"f":540},{"t":23.7,"a":63,"f":540},
      {"t":1.94,"a":88.9,"f":272},{"t":2.0,"a":85.7,"f":272},{"t":2.06,"a":78.8,"f":272},{"t":1.45,"a":81.6,"f":272},{"t":2.2,"a":88.2,"f":272},{"t":2.13,"a":83.1,"f":272},{"t":4.63,"a":89.3,"f":272},{"t":20.34,"a":89.5,"f":272},{"t":20.86,"a":86.8,"f":272},{"t":21.23,"a":85.7,"f":272},
      {"t":21.23,"a":81.2,"f":272},{"t":21.16,"a":88.9,"f":272},{"t":20.2,"a":68,"f":272},{"t":0.42,"a":-61,"f":272},{"t":0.5,"a":-89,"f":272},{"t":1.49,"a":-77.7,"f":272},{"t":1.47,"a":-82,"f":272},{"t":1.98,"a":-82.8,"f":272},{"t":2.1,"a":-85,"f":272},{"t":2.33,"a":-81.7,"f":272},
      {"t":2.29,"a":-88.3,"f":272},{"t":20.6,"a":-67.9,"f":272},{"t":21.24,"a":-69.4,"f":272},{"t":21.26,"a":-86.6,"f":272},
      {"t":3.04,"a":86.7,"f":148},{"t":11.93,"a":87.2,"f":148},{"t":20.98,"a":85.5,"f":148},{"t":1.87,"a":-80.6,"f":148},{"t":1.85,"a":-84,"f":148},{"t":3.0,"a":-81.3,"f":148},{"t":13.9,"a":-75,"f":148},{"t":15.0,"a":-75.5,"f":148},{"t":15.08,"a":-73.4,"f":148},{"t":15.3,"a":-78,"f":148},
      {"t":14.7,"a":-83.4,"f":148},{"t":15.1,"a":-83.2,"f":148},{"t":14.35,"a":-89.6,"f":148},{"t":15.1,"a":-89.6,"f":148},{"t":16.2,"a":-86.6,"f":148},{"t":15.0,"a":-77,"f":148},{"t":20.27,"a":-76,"f":148},{"t":20.84,"a":-74.7,"f":148},{"t":21.1,"a":-75.5,"f":148},{"t":20.8,"a":-77,"f":148},
      {"t":21.05,"a":-77,"f":148},{"t":20.9,"a":-79.4,"f":148},{"t":21.2,"a":-82.8,"f":148},{"t":20.95,"a":-86.6,"f":148},{"t":21.1,"a":-87,"f":148},
      {"t":14.36,"a":83.9,"f":100},{"t":14.6,"a":-78.5,"f":100},{"t":14.45,"a":-81.5,"f":100},{"t":14.66,"a":-82,"f":100},{"t":14.56,"a":-86.6,"f":100},{"t":15.75,"a":-75.3,"f":100},{"t":15.4,"a":-79.8,"f":100},{"t":15.67,"a":-84.3,"f":100},{"t":15.65,"a":-88.5,"f":100},{"t":20.2,"a":-51.9,"f":100}
    ]
  },
  "vconcat": [
    {
      "width": 451,
      "height": 280,
      "title": {"text": "URAP Direction Finding\u00a0 1994-08-02"},
      "resolve": {"axis": {"x": "independent", "y": "independent"}},
      "layer": [
        {
          "data": {"name": "pts"},
          "mark": {"type": "square", "size": 14, "opacity": 1, "filled": true},
          "encoding": {
            "x": {"field": "t", "type": "quantitative", "scale": {"domain": [0, 24], "nice": false},
              "axis": {"orient": "bottom", "values": [0, 6, 12, 18, 24], "labels": false, "tickSize": 6, "title": null}},
            "y": {"field": "a", "type": "quantitative", "scale": {"domain": [-90, 90], "nice": false},
              "axis": {"orient": "left", "values": [-90, -60, -30, 0, 30, 60, 90], "tickSize": 6, "labelPadding": 8, "labelFlush": true, "title": "Azimuthal angle (deg)", "titlePadding": 9}},
            "color": {"field": "f", "type": "nominal",
              "scale": {"domain": [52, 100, 120, 148, 272, 540, 940], "range": ["#ff0000", "#ffa500", "#c8c800", "#00ff00", "#00aaff", "#0000ff", "#a020f0"]},
              "legend": {"title": "Frequencies (kHz):", "encode": {"labels": {"update": {"fill": {"scale": "color", "field": "value"}}}}}}
          }
        },
        {
          "data": {"name": "bodies"},
          "transform": [{"filter": "datum.body === 'Saturn'"}],
          "mark": {"type": "line", "color": "#ff0000", "strokeWidth": 3.5, "interpolate": "step-after"},
          "encoding": {
            "x": {"field": "t", "type": "quantitative",
              "axis": {"orient": "bottom", "values": [1, 2, 3, 4, 5, 7, 8, 9, 10, 11, 13, 14, 15, 16, 17, 19, 20, 21, 22, 23], "labels": false, "tickSize": 4, "title": null}},
            "y": {"field": "a", "type": "quantitative",
              "axis": {"orient": "left", "values": [-80, -70, -50, -40, -20, -10, 10, 20, 40, 50, 70, 80], "labels": false, "tickSize": 4, "title": null}}
          }
        },
        {
          "data": {"name": "bodies"},
          "transform": [{"filter": "datum.body === 'Jupiter'"}],
          "mark": {"type": "line", "color": "black", "strokeWidth": 3.5, "interpolate": "step-after"},
          "encoding": {
            "x": {"field": "t", "type": "quantitative",
              "axis": {"orient": "top", "values": [0, 6, 12, 18, 24], "labels": false, "tickSize": 6, "title": null}},
            "y": {"field": "a", "type": "quantitative",
              "axis": {"orient": "right", "values": [-90, -60, -30, 0, 30, 60, 90], "labels": false, "tickSize": 6, "title": null}}
          }
        },
        {
          "data": {"name": "bodies"},
          "transform": [{"filter": "datum.t === 24"}],
          "mark": {"type": "text", "align": "left", "baseline": "middle", "dx": 2, "dy": -1, "fontSize": 14, "font": "Liberation Sans", "color": "black"},
          "encoding": {
            "x": {"field": "t", "type": "quantitative",
              "axis": {"orient": "top", "values": [1, 2, 3, 4, 5, 7, 8, 9, 10, 11, 13, 14, 15, 16, 17, 19, 20, 21, 22, 23], "labels": false, "tickSize": 4, "title": null}},
            "y": {"field": "a", "type": "quantitative",
              "axis": {"orient": "right", "values": [-80, -70, -50, -40, -20, -10, 10, 20, 40, 50, 70, 80], "labels": false, "tickSize": 4, "title": null}},
            "text": {"field": "body"}
          }
        }
      ]
    },
    {
      "width": 451,
      "height": 210,
      "resolve": {"axis": {"x": "independent", "y": "independent"}},
      "data": {"name": "ints"},
      "layer": [
        {
          "transform": [{"filter": {"field": "f", "oneOf": [52, 100, 120]}}],
          "mark": {"type": "line", "strokeWidth": 2.5},
          "encoding": {
            "x": {"field": "t", "type": "quantitative", "scale": {"domain": [0, 24], "nice": false},
              "axis": {"orient": "bottom", "values": [0, 6, 12, 18, 24], "format": "d", "tickSize": 6, "labelPadding": 10, "labelFlush": false, "title": "time - hours on 1994-08-02", "titlePadding": 5}},
            "y": {"field": "v", "type": "quantitative", "scale": {"type": "log", "domain": [0.01, 10], "nice": false},
              "axis": {"orient": "left", "values": [0.01, 0.1, 1, 10], "format": ".2f", "tickSize": 6, "labelPadding": 8, "labelFlush": true, "title": "Intensity (microvolt/sqrt(Hz))", "titlePadding": 16}},
            "color": {"field": "f", "type": "nominal",
              "scale": {"domain": [52, 100, 120, 148, 272, 540, 940], "range": ["#ff0000", "#ffa500", "#c8c800", "#00ff00", "#00aaff", "#0000ff", "#a020f0"]},
              "legend": {"title": "Frequencies (kHz):", "encode": {"labels": {"update": {"fill": {"scale": "color", "field": "value"}}}}}}
          }
        },
        {
          "transform": [{"filter": {"field": "f", "oneOf": [148]}}],
          "mark": {"type": "line", "strokeWidth": 2.5},
          "encoding": {
            "x": {"field": "t", "type": "quantitative",
              "axis": {"orient": "bottom", "values": [1, 2, 3, 4, 5, 7, 8, 9, 10, 11, 13, 14, 15, 16, 17, 19, 20, 21, 22, 23], "labels": false, "tickSize": 4, "title": null}},
            "y": {"field": "v", "type": "quantitative",
              "axis": {"orient": "left", "values": [0.0215, 0.0464, 0.215, 0.464, 2.15, 4.64], "labels": false, "tickSize": 4, "title": null}},
            "color": {"field": "f", "type": "nominal",
              "scale": {"domain": [52, 100, 120, 148, 272, 540, 940], "range": ["#ff0000", "#ffa500", "#c8c800", "#00ff00", "#00aaff", "#0000ff", "#a020f0"]},
              "legend": {"title": "Frequencies (kHz):", "encode": {"labels": {"update": {"fill": {"scale": "color", "field": "value"}}}}}}
          }
        },
        {
          "transform": [{"filter": {"field": "f", "oneOf": [272]}}],
          "mark": {"type": "line", "strokeWidth": 2.5},
          "encoding": {
            "x": {"field": "t", "type": "quantitative",
              "axis": {"orient": "top", "values": [0, 6, 12, 18, 24], "labels": false, "tickSize": 6, "title": null}},
            "y": {"field": "v", "type": "quantitative",
              "axis": {"orient": "right", "values": [0.01, 0.1, 1, 10], "labels": false, "tickSize": 6, "title": null}},
            "color": {"field": "f", "type": "nominal",
              "scale": {"domain": [52, 100, 120, 148, 272, 540, 940], "range": ["#ff0000", "#ffa500", "#c8c800", "#00ff00", "#00aaff", "#0000ff", "#a020f0"]},
              "legend": {"title": "Frequencies (kHz):", "encode": {"labels": {"update": {"fill": {"scale": "color", "field": "value"}}}}}}
          }
        },
        {
          "transform": [{"filter": {"field": "f", "oneOf": [540, 940]}}],
          "mark": {"type": "line", "strokeWidth": 2.5},
          "encoding": {
            "x": {"field": "t", "type": "quantitative",
              "axis": {"orient": "top", "values": [1, 2, 3, 4, 5, 7, 8, 9, 10, 11, 13, 14, 15, 16, 17, 19, 20, 21, 22, 23], "labels": false, "tickSize": 4, "title": null}},
            "y": {"field": "v", "type": "quantitative",
              "axis": {"orient": "right", "values": [0.0215, 0.0464, 0.215, 0.464, 2.15, 4.64], "labels": false, "tickSize": 4, "title": null}},
            "color": {"field": "f", "type": "nominal",
              "scale": {"domain": [52, 100, 120, 148, 272, 540, 940], "range": ["#ff0000", "#ffa500", "#c8c800", "#00ff00", "#00aaff", "#0000ff", "#a020f0"]},
              "legend": {"title": "Frequencies (kHz):", "encode": {"labels": {"update": {"fill": {"scale": "color", "field": "value"}}}}}}
          }
        }
      ]
    }
  ],
  "spacing": 20,
  "bounds": "flush"
}
